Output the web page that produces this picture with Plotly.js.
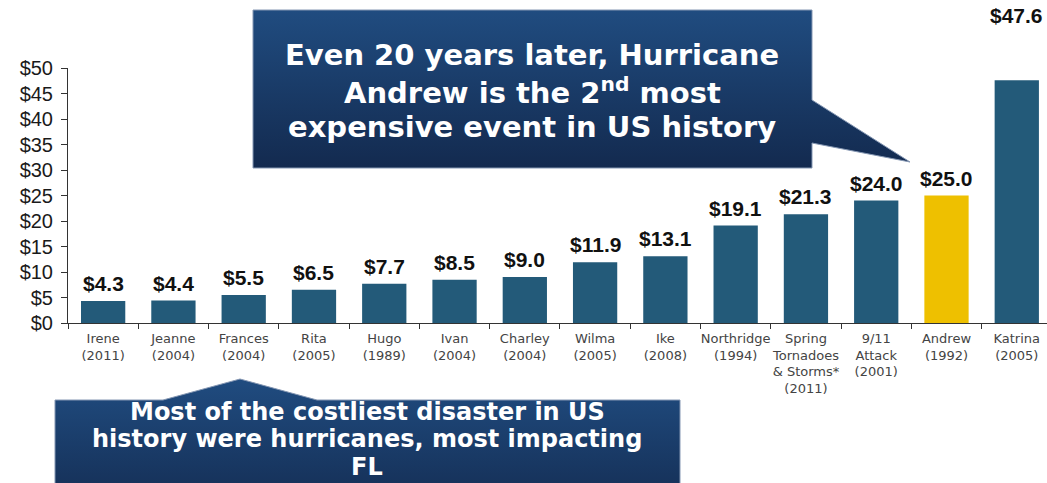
<!DOCTYPE html>
<html><head><meta charset="utf-8">
<script src="https://cdn.plot.ly/plotly-3.0.1.min.js"></script>
<style>html,body{margin:0;padding:0;background:#fff;overflow:hidden}</style>
</head><body><div id="chart" style="width:1047px;height:483px"></div>
<script>
// ---- data ----
const events = ['Irene','Jeanne','Frances','Rita','Hugo','Ivan','Charley','Wilma','Ike','Northridge','Spring<br>Tornadoes<br>& Storms*','9/11<br>Attack','Andrew','Katrina'];
const years = ['2011','2004','2004','2005','1989','2004','2004','2005','2008','1994','2011','2001','1992','2005'];
const costs = [4.3,4.4,5.5,6.5,7.7,8.5,9.0,11.9,13.1,19.1,21.3,24.0,25.0,47.6];
const highlighted = 'Andrew';
const yTickValues = [0,5,10,15,20,25,30,35,40,45,50];
const yTickLabels = ['$0','$5','$10','$15','$20','$25','$30','$35','$40','$45','$50'];
const calloutTop = ['Even 20 years later, Hurricane','Andrew is the 2<sup>nd</sup> most','expensive event in US history'];
const calloutBottom = ['Most of the costliest disaster in US','history were hurricanes, most impacting','FL'];

// ---- build ----
const W = 1047, H = 483;
const cats = events.map((e,i)=> e + '<br>(' + years[i] + ')');
const colors = events.map(e => e === highlighted ? '#eec000' : '#235a79');
const maxCost = Math.max(...costs);

const bars = {
  type:'bar', x:cats, y:costs, marker:{color:colors, line:{width:0}},
  hoverinfo:'skip', xaxis:'x', yaxis:'y'
};

const grad = (top,bottom)=>({type:'vertical', start:top, stop:bottom,
  colorscale:[[0,'#204c80'],[1,'#132a4f']]});

const box1 = {
  type:'scatter', mode:'lines', fill:'toself', xaxis:'x2', yaxis:'y2', hoverinfo:'skip',
  x:[253,812,812,910,812,812,253,253],
  y:[10,10,100,162,143,168,168,10],
  line:{color:'#8597b3', width:1}, fillgradient:grad(10,168)
};
const box2 = {
  type:'scatter', mode:'lines', fill:'toself', xaxis:'x2', yaxis:'y2', hoverinfo:'skip',
  x:[55,163,240,317,680,680,55,55],
  y:[400,400,379,400,400,500,500,400],
  line:{color:'#8597b3', width:1}, fillgradient:grad(379,520)
};

const annotations = [];
cats.forEach((c,i)=>{
  annotations.push({xref:'x', yref:'y', x:c, y:costs[i], text:'<b>$'+costs[i].toFixed(1)+'</b>',
    showarrow:false, yanchor:'bottom', yshift: costs[i]===maxCost ? 51 : 4,
    font:{family:'Liberation Sans, Arial, sans-serif', size:21, color:'#111'}});
});
const topYs = [55, 91, 127];
calloutTop.forEach((t,i)=>{
  annotations.push({xref:'x2', yref:'y2', x:532, y:topYs[i], text:'<b>'+t+'</b>', showarrow:false,
    xanchor:'center', yanchor:'middle', font:{family:'DejaVu Sans, Liberation Sans, sans-serif', size:29, color:'#fff'}});
});
const botYs = [412, 439, 467];
calloutBottom.forEach((t,i)=>{
  annotations.push({xref:'x2', yref:'y2', x:367, y:botYs[i], text:'<b>'+t+'</b>', showarrow:false,
    xanchor:'center', yanchor:'middle', font:{family:'DejaVu Sans, Liberation Sans, sans-serif', size:24, color:'#fff'}});
});

const layout = {
  width:W, height:H, margin:{l:0,r:0,t:0,b:0},
  paper_bgcolor:'#ffffff', plot_bgcolor:'rgba(0,0,0,0)', showlegend:false, bargap:0.37,
  font:{family:'Liberation Sans, Arial, sans-serif'},
  xaxis:{domain:[68/W,1], range:[-0.5,13.43], type:'category', tickson:'boundaries',
    ticks:'outside', ticklen:5, tickcolor:'#333', showline:true, linecolor:'#333', linewidth:1,
    tickangle:0, showgrid:false, zeroline:false, fixedrange:true, ticklabelstandoff:3,
    tickfont:{family:'DejaVu Sans, Liberation Sans, sans-serif', size:13, color:'#444'}},
  yaxis:{domain:[(H-323)/H,(H-68)/H], range:[0,50], tickmode:'array', tickvals:yTickValues, ticktext:yTickLabels,
    ticks:'outside', ticklen:6, tickcolor:'#333', showline:true, linecolor:'#333', linewidth:1,
    showgrid:false, zeroline:false, fixedrange:true, ticklabelstandoff:4,
    tickfont:{family:'Liberation Sans, Arial, sans-serif', size:20, color:'#1a1a1a'}},
  xaxis2:{domain:[0,1], range:[0,W], visible:false, anchor:'y2', fixedrange:true},
  yaxis2:{domain:[0,1], range:[H,0], visible:false, anchor:'x2', fixedrange:true},
  annotations
};

Plotly.newPlot('chart', [bars, box1, box2], layout, {displayModeBar:false, staticPlot:true});
</script></body></html>
